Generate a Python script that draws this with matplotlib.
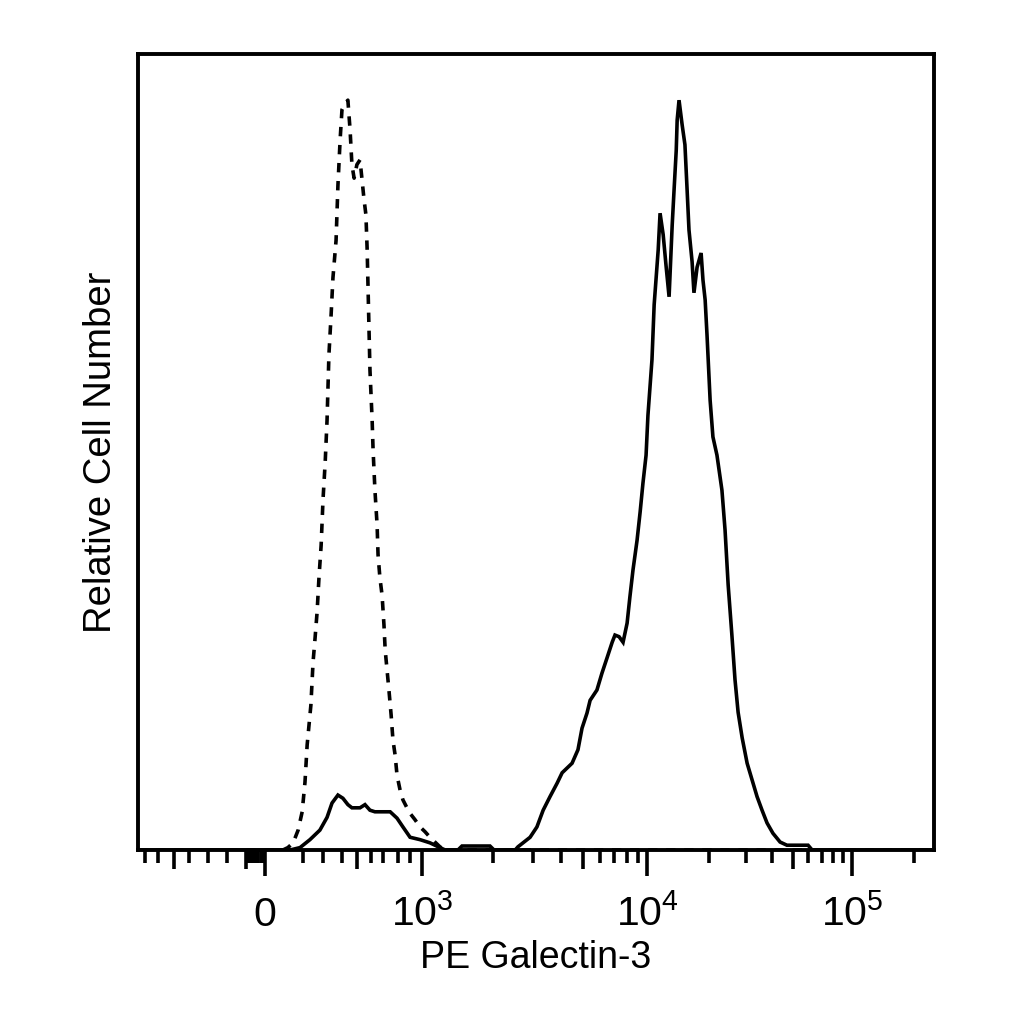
import numpy as np
import matplotlib
matplotlib.use("Agg")
import matplotlib.pyplot as plt

plt.rcParams['font.family'] = ['Liberation Sans', 'DejaVu Sans']
plt.rcParams['mathtext.fontset'] = 'custom'
plt.rcParams['mathtext.rm'] = 'Liberation Sans'
plt.rcParams['mathtext.it'] = 'Liberation Sans:italic'
plt.rcParams['mathtext.bf'] = 'Liberation Sans:bold'

# ---------------- data (256-channel histograms, relative counts) ----------------
isotype_channel = [0, 46.6, 48.2, 49.9, 51.5, 52.8, 53.7, 54.4, 55.0, 55.6, 56.3, 56.9, 57.6,
                   58.2, 58.9, 59.5, 60.2, 60.8, 61.4, 62.1, 62.7, 63.7, 64.3, 65.0, 65.6,
                   66.6, 67.5, 68.2, 68.8, 69.5, 70.4, 71.4, 72.0, 72.7, 73.3, 73.7, 74.0,
                   74.3, 74.6, 75.3, 75.6, 76.2, 76.9, 77.2, 77.8, 78.5, 79.1, 79.5, 80.1,
                   80.7, 81.4, 82.0, 82.7, 83.3, 84.3, 85.2, 86.5, 87.5, 89.1, 90.7, 92.3,
                   93.9, 95.5, 97.1, 98.8, 256]
isotype_count = [0, 0, 0.3, 0.9, 2.5, 4.8, 8.5, 13.2, 15.7, 18.2, 23.6, 26.4, 29.9,
                 34.2, 38.3, 44.0, 48.7, 54.0, 62.2, 67.2, 71.9, 76.6, 83.5, 89.2, 93.0,
                 93.8, 94.2, 90.5, 86.1, 84.4, 86.1, 86.7, 84.4, 81.7, 79.8, 75.4, 70.4,
                 65.3, 60.3, 54.0, 50.3, 45.2, 40.8, 37.1, 34.2, 32.0, 28.3, 25.1, 22.6,
                 20.1, 17.0, 13.8, 11.9, 9.4, 7.5, 6.3, 5.3, 4.6, 3.8, 2.9, 2.3,
                 1.6, 1.0, 0.4, 0, 0]

galectin_channel = [0, 48.9, 52.1, 55.3, 58.5, 60.8, 62.4, 64.3, 65.9, 67.5, 68.8, 71.4,
                    73.0, 74.6, 76.2, 81.1, 83.3, 85.2, 87.5, 90.7, 93.9, 97.1, 98.8,
                    102.9, 104.2, 113.2, 114.5, 121.3, 122.2, 126.1, 128.3, 130.3, 132.5,
                    134.8, 136.4, 139.6, 141.5, 142.8, 144.4, 145.4, 147.6, 149.2, 150.9,
                    152.5, 153.4, 154.7, 156.0, 157.3, 158.2, 159.2, 160.5, 161.5, 162.4,
                    163.4, 164.0, 165.3, 166.0, 167.3, 167.9, 168.9, 169.8, 170.8, 171.8,
                    172.4, 173.1, 173.4, 174.0, 175.0, 175.9, 176.6, 177.2, 178.2, 178.8,
                    179.8, 181.1, 181.7, 182.4, 183.0, 184.0, 184.9, 186.2, 187.8, 188.8,
                    189.8, 191.0, 192.0, 193.0, 194.3, 195.9, 197.5, 199.1, 200.7, 202.3,
                    204.2, 206.5, 208.7, 215.5, 216.8, 256]
galectin_count = [0, 0, 0.3, 1.3, 2.5, 4.1, 5.9, 6.9, 6.5, 5.7, 5.3, 5.3,
                  5.7, 5.0, 4.8, 4.8, 4.0, 2.9, 1.6, 1.3, 0.9, 0.3, 0,
                  0, 0.5, 0.5, 0, 0, 0.4, 1.6, 2.9, 5.0, 6.7,
                  8.4, 9.7, 10.9, 12.6, 15.3, 17.2, 18.8, 20.1, 22.2, 24.2,
                  26.1, 27.0, 26.8, 26.1, 28.5, 31.8, 35.2, 38.9, 42.5, 46.1,
                  49.6, 54.6, 61.6, 68.5, 75.4, 80.0, 77.3, 73.5, 69.5, 78.5,
                  82.9, 87.9, 91.7, 94.2, 91.1, 88.6, 82.9, 77.9, 73.9, 70.0,
                  73.2, 75.0, 71.6, 69.1, 64.7, 56.5, 51.9, 49.6, 45.2, 40.2,
                  33.3, 27.0, 21.4, 17.3, 14.1, 10.9, 8.8, 6.7, 5.0, 3.4,
                  2.1, 1.0, 0.6, 0.6, 0, 0]

# ---------------- biexponential display scale (fluorescence value -> channel) ----------------
scale_values = [-700, -500, -300, -200, -100, 0, 100, 200, 300, 400, 500, 700, 1000,
                2000, 3000, 5000, 1e4, 2e4, 5e4, 1e5, 2e5, 262144]
scale_channels = [2.2, 11.5, 22.5, 28.6, 34.7, 40.8, 46.9, 53.0, 59.5, 65.6, 70.4, 78.8, 91.3,
                  114.1, 127.0, 143.1, 163.8, 183.6, 210.6, 229.6, 249.5, 256]


def to_channel(v):
    s = np.arcsinh(np.asarray(v, dtype=float) / 100.0)
    return np.interp(s, np.arcsinh(np.array(scale_values) / 100.0), scale_channels)


major_tick_values = [0, 1e3, 1e4, 1e5]
major_tick_labels = ['0', r'$\mathregular{10^3}$', r'$\mathregular{10^4}$', r'$\mathregular{10^5}$']
medium_tick_values = [-500, -100, 500, 5000, 50000]
minor_tick_values = ([-700, -600, -400, -300, -200]
                     + [-90, -80, -70, -60, -50, -40, -30, -20, -10]
                     + [200, 300, 400, 600, 700, 800, 900]
                     + [2000, 3000, 4000, 6000, 7000, 8000, 9000]
                     + [2e4, 3e4, 4e4, 6e4, 7e4, 8e4, 9e4]
                     + [2e5])

# ---------------- figure ----------------
fig = plt.figure(figsize=(10.24, 10.24), dpi=100)
ax = fig.add_axes([138 / 1024, 174 / 1024, 796 / 1024, 796 / 1024])

ax.plot(isotype_channel, isotype_count, color='black', lw=2.6,
        linestyle=(0, (2.6, 2.4)), solid_joinstyle='miter')
ax.plot(galectin_channel, galectin_count, color='black', lw=2.6, solid_joinstyle='miter')

ax.set_xlim(0, 256)
ax.set_ylim(0, 100)

for sp in ax.spines.values():
    sp.set_linewidth(2.8)

ax.set_yticks([])
ax.set_xticks(to_channel(major_tick_values))
ax.set_xticklabels(major_tick_labels, va='baseline')
ax.set_xticks(to_channel(minor_tick_values), minor=True)
ax.tick_params(axis='x', which='major', length=18.5, width=2.6, direction='out',
               labelsize=29.5, pad=36, color='black')
ax.tick_params(axis='x', which='minor', length=9, width=2.6, direction='out', color='black')

sec = ax.secondary_xaxis('bottom')
sec.set_xticks(to_channel(medium_tick_values))
sec.tick_params(axis='x', length=13.5, width=2.6, direction='out', labelbottom=False)
sec.spines['bottom'].set_visible(False)

ax.set_xlabel('PE Galectin-3', fontsize=27, labelpad=4.5)
ax.set_ylabel('Relative Cell Number', fontsize=27.5, labelpad=14)

fig.savefig('out.png', dpi=100, facecolor='white')
